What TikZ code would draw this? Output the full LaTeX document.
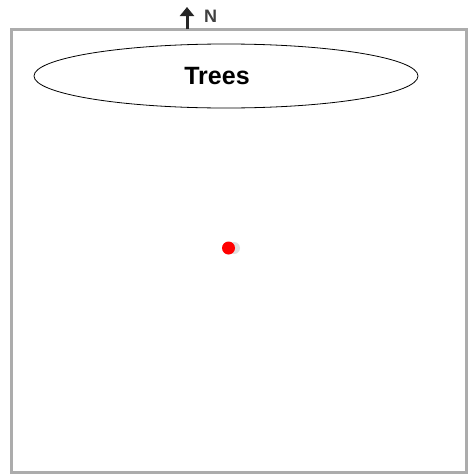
\documentclass[tikz,border=0pt]{standalone}
\usepackage{fontspec}
\setmainfont{Liberation Sans}
\usetikzlibrary{shapes.geometric, arrows.meta}

\begin{document}
\begin{tikzpicture}[>={Triangle[width=14pt,length=9pt]}, x=1pt, y=-1pt]
    \useasboundingbox (0,0) rectangle (467,474);

    % Campo (moldura cinza)
    \draw [line width=3pt, gray!65] (11,29) rectangle (466,472);

    % Arvores
    \node [ellipse, draw, thick, minimum width=384pt, minimum height=64pt] (trees) at (226,76) {};
    \node [font=\fontsize{25}{29}\selectfont\bfseries] (treeslabel) at ([xshift=-9pt]trees.center) {Trees};

    % Seta do norte
    \coordinate (ntail) at (187,29);
    \coordinate (nhead) at (187,7);
    \draw [->, line width=3pt, black!85] (ntail) -- (nhead);
    \node [right, inner sep=0pt, text=black!75, font=\fontsize{18}{21}\selectfont\bfseries] (north) at (204,16) {N};

    % Ponto vermelho
    \fill [gray!25] (234,248) circle (6pt);
    \node [circle, fill=red, minimum size=13pt, inner sep=0pt] (spot) at (228.5,248) {};
\end{tikzpicture}
\end{document}
